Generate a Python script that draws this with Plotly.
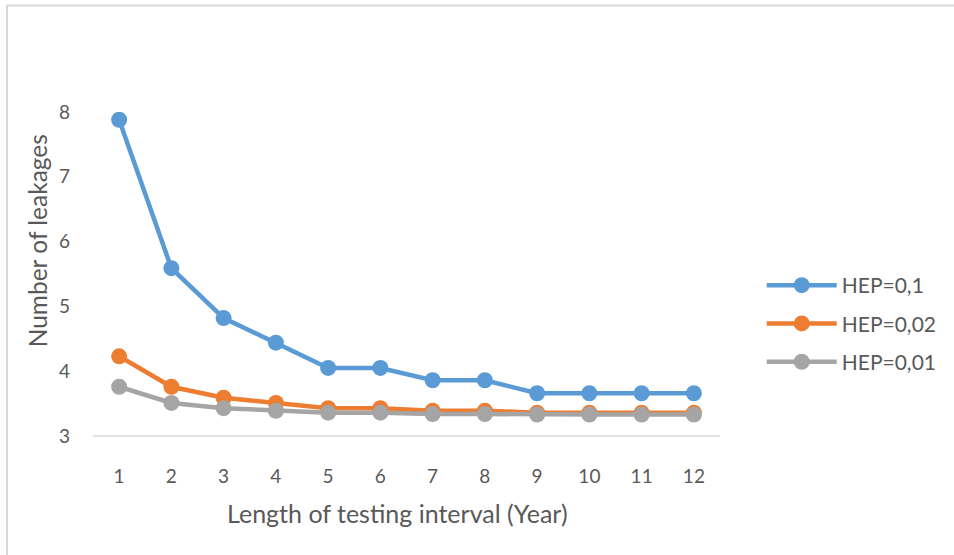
import plotly.graph_objects as go

years = ["1", "2", "3", "4", "5", "6", "7", "8", "9", "10", "11", "12"]
hep_01 = [7.88, 5.59, 4.82, 4.44, 4.05, 4.05, 3.86, 3.86, 3.66, 3.66, 3.66, 3.66]
hep_002 = [4.23, 3.76, 3.59, 3.51, 3.43, 3.43, 3.39, 3.39, 3.36, 3.36, 3.36, 3.36]
hep_001 = [3.76, 3.51, 3.43, 3.39, 3.36, 3.36, 3.34, 3.34, 3.33, 3.33, 3.33, 3.33]
series_names = ["HEP=0,1", "HEP=0,02", "HEP=0,01"]
colors = ["#5B9BD5", "#ED7D31", "#A5A5A5"]

W, H = 954, 555
L, R, T, B = 93, 230, 112, 119
pw, ph = W - L - R, H - T - B

def px(x):
    return (x - L) / pw

def py(y):
    return (H - B - y) / ph

FONT = "Lato"
GREY = "#595959"

fig = go.Figure()
for i, (name, vals, c) in enumerate(zip(series_names, [hep_01, hep_002, hep_001], colors)):
    fig.add_trace(go.Scatter(
        x=years, y=vals, name=name, mode="lines+markers", legendgroup=f"g{i}",
        line=dict(color=c, width=4.5),
        marker=dict(color=c, size=16),
    ))

fig.update_layout(
    width=W, height=H,
    margin=dict(l=L, r=R, t=T, b=B, pad=0),
    paper_bgcolor="white", plot_bgcolor="white",
    font=dict(family=FONT, color=GREY, size=19),
    showlegend=True,
    legend=dict(
        x=px(766), y=py(265), xanchor="left", yanchor="top",
        font=dict(family=FONT, size=21, color=GREY),
        itemwidth=70, tracegroupgap=8, bgcolor="rgba(0,0,0,0)",
    ),
    xaxis=dict(
        type="category", range=[-0.5, 11.5],
        showgrid=False, zeroline=False, showline=False,
        ticks="", tickfont=dict(family=FONT, size=19, color=GREY),
        ticklabelstandoff=27,
    ),
    yaxis=dict(
        range=[3, 8], dtick=1, tick0=3,
        showgrid=False, zeroline=False, showline=False,
        ticks="", tickfont=dict(family=FONT, size=19, color=GREY),
        ticklabelstandoff=22,
    ),
    annotations=[
        dict(text="Number of leakages", x=px(37), y=py(241), xref="paper", yref="paper",
             textangle=-90, showarrow=False, font=dict(family=FONT, size=24.5, color=GREY),
             xanchor="center", yanchor="middle"),
        dict(text="Length of testing interval (Year)", x=px(399), y=py(513), xref="paper", yref="paper",
             showarrow=False, font=dict(family=FONT, size=25, color=GREY),
             xanchor="center", yanchor="middle"),
    ],
    shapes=[
        dict(type="line", xref="paper", yref="paper", x0=0, x1=1, y0=0, y1=0,
             line=dict(color="#D9D9D9", width=1.5), layer="below"),
        dict(type="line", xref="paper", yref="paper", x0=px(6.5), x1=px(6.5), y0=py(5), y1=py(560),
             line=dict(color="#D9D9D9", width=2)),
        dict(type="line", xref="paper", yref="paper", x0=px(6), x1=px(960), y0=py(5.5), y1=py(5.5),
             line=dict(color="#D9D9D9", width=2)),
    ],
)

fig.write_html("out.html")
